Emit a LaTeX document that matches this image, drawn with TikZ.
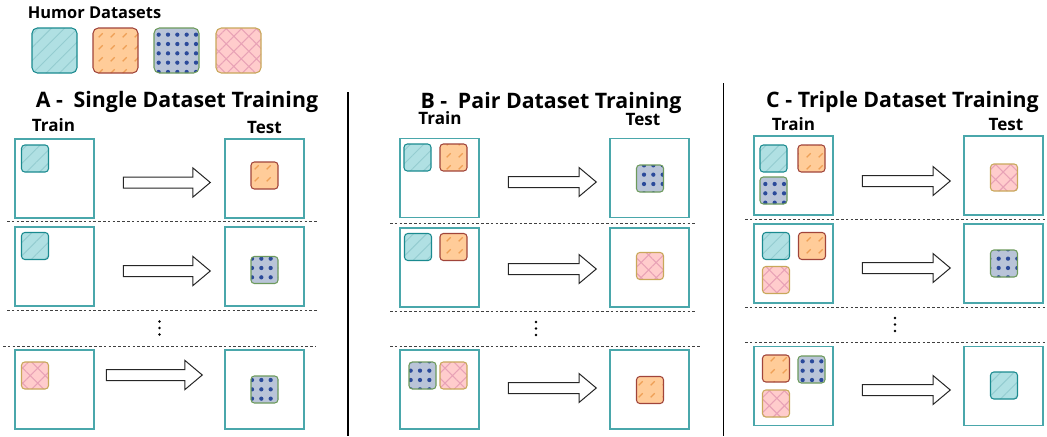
\documentclass[tikz,border=0pt]{standalone}
\usepackage{fontspec}
\setmainfont{Open Sans}
\usetikzlibrary{patterns.meta,shapes.arrows}
\definecolor{tealfill}{HTML}{B0E0E3}
\definecolor{tealedge}{HTML}{1A8A8F}
\definecolor{tealline}{HTML}{94CCD0}
\definecolor{orangefill}{HTML}{FFCC99}
\definecolor{orangeedge}{HTML}{A0443A}
\definecolor{orangeline}{HTML}{EE9F55}
\definecolor{bluefill}{HTML}{B9C4D8}
\definecolor{blueedge}{HTML}{6D9A5C}
\definecolor{bluedot}{HTML}{2B4A9A}
\definecolor{pinkfill}{HTML}{FFCCCC}
\definecolor{pinkedge}{HTML}{C8A85A}
\definecolor{pinkline}{HTML}{E8A2B6}
\definecolor{panelteal}{HTML}{4AA7AB}

\tikzdeclarepattern{
  name=DashDiag,
  type=uncolored,
  bounding box={(-1pt,-1pt) and (10pt,10pt)},
  tile size={(9pt,9pt)},
  code={
    \draw[line width=0.9pt] (2pt,2pt) -- (5pt,5pt);
  }
}

\tikzset{
  dsq/.style={rounded corners=2.5pt,minimum size=20.25pt,inner sep=0pt,line width=0.8pt},
  dsbig/.style={minimum size=33.75pt,rounded corners=4pt},
  tealds/.style={dsq,draw=tealedge,preaction={fill=tealfill},pattern={Lines[angle=45,distance=7pt,line width=0.7pt]},pattern color=tealline},
  orangeds/.style={dsq,draw=orangeedge,preaction={fill=orangefill},pattern=DashDiag,pattern color=orangeline},
  blueds/.style={dsq,draw=blueedge,preaction={fill=bluefill},pattern={Dots[distance=7pt,radius=1.6pt]},pattern color=bluedot},
  pinkds/.style={dsq,draw=pinkedge,preaction={fill=pinkfill},pattern={Hatch[angle=45,distance=8pt,line width=0.8pt]},pattern color=pinkline},
  panelbox/.style={draw=panelteal,line width=0.8pt,minimum size=59.25pt,inner sep=0pt},
  bigarrow/.style={single arrow,draw=black!85,line width=0.75pt,fill=white,inner sep=0pt,inner ysep=3.75pt,
    single arrow head extend=6.75pt,single arrow tip angle=80,minimum height=65.25pt},
  sepline/.style={black!75,line width=0.6pt,dash pattern=on 2pt off 1.6pt},
  paneltitle/.style={font=\fontsize{16}{18}\selectfont\bfseries,text depth=0pt},
  colhead/.style={font=\fontsize{12.8}{15}\selectfont\bfseries,text depth=0pt}
}

\begin{document}
\begin{tikzpicture}[x=0.75pt,y=-0.75pt]
  \useasboundingbox (0,0) rectangle (1047,436);
  % legend
  \node[font=\fontsize{12.3}{14}\selectfont\bfseries,text depth=0pt] (lgtitle) at (94.5,13) {Humor Datasets};
  \foreach \ds/\xx [count=\i] in {tealds/54.5,orangeds/115.5,blueds/176.5,pinkds/238.5}{
    \node[\ds,dsbig] (lg\i) at (\xx,50.5) {};
  }
  % separators
  \draw[black,line width=1.1pt] (348,92) -- (348,436);
  \draw[black,line width=1.1pt] (723.5,83) -- (723.5,436);

  %%% A - single
  \node[paneltitle] (ttA) at (177,99.5) {A -\enspace Single Dataset Training};
  \node[colhead] (trhA) at (53.5,125) {Train};
  \node[colhead] (tehA) at (264.5,127.5) {Test};
  \node[panelbox] (trA1) at (54.5,178.5) {};
  \node[panelbox] (teA1) at (264.5,178.5) {};
  \node[tealds] (sqA1a) at (35,158.5) {};
  \node[orangeds] (sqA1t) at (264.5,175.5) {};
  \node[bigarrow] (arA1) at (163.5,182.5) {};
  \draw[sepline] (7,221.5) -- (318,221.5);
  \node[panelbox] (trA2) at (54.5,266.5) {};
  \node[panelbox] (teA2) at (264.5,266.5) {};
  \node[tealds] (sqA2a) at (35,246) {};
  \node[blueds] (sqA2t) at (264.5,270) {};
  \node[bigarrow] (arA2) at (163.5,271) {};
  \draw[sepline] (7,310.5) -- (318,310.5);
  \foreach \k in {0,1,2} \fill (159.5,321.5+6.5*\k) circle (1.1pt);
  \draw[sepline] (3,346) -- (316,346);
  \node[panelbox] (trA3) at (54.5,389.5) {};
  \node[panelbox] (teA3) at (264.5,389.5) {};
  \node[pinkds] (sqA3a) at (35,375.5) {};
  \node[blueds] (sqA3t) at (264.5,389.5) {};
  \node[bigarrow,minimum height=72pt] (arA3) at (151,375) {};

  %%% B - pair
  \node[paneltitle] (ttB) at (551,100) {B -\enspace Pair Dataset Training};
  \node[colhead] (trhB) at (440,118.5) {Train};
  \node[colhead] (tehB) at (643,119.5) {Test};
  \node[panelbox] (trB1) at (439.5,178) {};
  \node[panelbox] (teB1) at (649.5,178) {};
  \node[tealds] (sqB1a) at (417.5,157.5) {};
  \node[orangeds] (sqB1b) at (453.5,157.5) {};
  \node[blueds] (sqB1t) at (650,178.5) {};
  \node[bigarrow,minimum height=66pt] (arB1) at (549,182) {};
  \draw[sepline] (390,223) -- (696,223);
  \node[panelbox] (trB2) at (439.5,267.5) {};
  \node[panelbox] (teB2) at (649.5,267.5) {};
  \node[tealds] (sqB2a) at (418,247) {};
  \node[orangeds] (sqB2b) at (453.5,247) {};
  \node[pinkds] (sqB2t) at (650,266) {};
  \node[bigarrow,minimum height=66pt] (arB2) at (549,269) {};
  \draw[sepline] (390,311) -- (696,311);
  \foreach \k in {0,1,2} \fill (536,322+6.5*\k) circle (1.1pt);
  \draw[sepline] (390,346) -- (700,346);
  \node[panelbox] (trB3) at (439.5,389.5) {};
  \node[panelbox] (teB3) at (649.5,389.5) {};
  \node[blueds] (sqB3a) at (422.5,375.5) {};
  \node[pinkds] (sqB3b) at (453.5,375.5) {};
  \node[orangeds] (sqB3t) at (650,390) {};
  \node[bigarrow,minimum height=66pt] (arB3) at (549,388) {};

  %%% C - triple
  \node[paneltitle] (ttC) at (902.5,99.5) {C - Triple Dataset Training};
  \node[colhead] (trhC) at (793.5,124) {Train};
  \node[colhead] (tehC) at (1006,124) {Test};
  \node[panelbox] (trC1) at (793.5,175.5) {};
  \node[panelbox] (teC1) at (1003.5,175.5) {};
  \node[tealds] (sqC1a) at (773.5,158.5) {};
  \node[orangeds] (sqC1b) at (811.5,158.5) {};
  \node[blueds] (sqC1c) at (773.5,190.5) {};
  \node[pinkds] (sqC1t) at (1004,177.5) {};
  \node[bigarrow,minimum height=66pt] (arC1) at (903,181) {};
  \draw[sepline] (745,219) -- (1047,219);
  \node[panelbox] (trC2) at (793.5,263.5) {};
  \node[panelbox] (teC2) at (1003.5,263.5) {};
  \node[tealds] (sqC2a) at (776,246) {};
  \node[orangeds] (sqC2b) at (812,246) {};
  \node[pinkds] (sqC2c) at (776,280) {};
  \node[blueds] (sqC2t) at (1004,263.5) {};
  \node[bigarrow,minimum height=66pt] (arC2) at (903,268) {};
  \draw[sepline] (745,307) -- (1047,307);
  \foreach \k in {0,1,2} \fill (895,318+6.5*\k) circle (1.1pt);
  \draw[sepline] (745,342) -- (1047,342);
  \node[panelbox] (trC3) at (793.5,386) {};
  \node[panelbox] (teC3) at (1003.5,386) {};
  \node[orangeds] (sqC3a) at (776,368.5) {};
  \node[blueds] (sqC3b) at (811.5,369.5) {};
  \node[pinkds] (sqC3c) at (776,403.5) {};
  \node[tealds] (sqC3t) at (1004,385.5) {};
  \node[bigarrow,minimum height=66pt] (arC3) at (903,390) {};
\end{tikzpicture}
\end{document}
